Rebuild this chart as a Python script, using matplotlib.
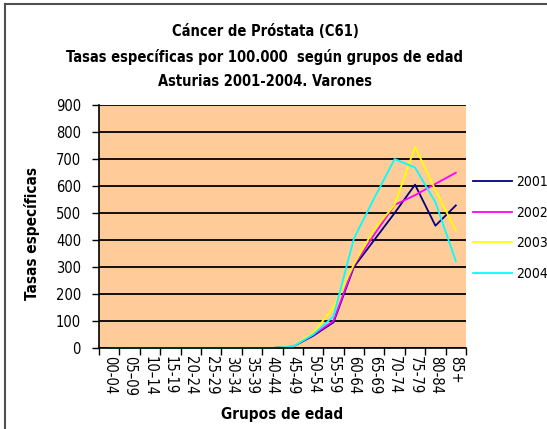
import matplotlib
matplotlib.use("Agg")
import matplotlib.pyplot as plt
from matplotlib.lines import Line2D

plt.rcParams['font.family'] = ['DejaVu Sans']
plt.rcParams['font.stretch'] = 'condensed'

categories = ['00-04', '05–09', '10–14', '15-19', '20-24', '25-29', '30-34', '35-39',
              '40-44', '45-49', '50-54', '55-59', '60-64', '65-69', '70-74', '75-79',
              '80-84', '85+']
years = ['2001', '2002', '2003', '2004']
v2001 = [0, 0, 0, 0, 0, 0, 0, 0, 0, 5, 45, 95, 300, 400, 500, 605, 453, 528]
v2002 = [0, 0, 0, 0, 0, 0, 0, 0, 0, 5, 48, 100, 305, 420, 530, 566, 608, 649]
v2003 = [0, 0, 0, 0, 0, 0, 0, 0, 0, 5, 55, 150, 310, 440, 530, 745, 585, 435]
v2004 = [0, 0, 0, 0, 0, 0, 0, 0, 0, 5, 50, 117, 405, 555, 700, 668, 540, 322]
series = [v2001, v2002, v2003, v2004]
colors = ['#000080', '#FF00FF', '#FFFF00', '#00FFFF']
yticks = [0, 100, 200, 300, 400, 500, 600, 700, 800, 900]

W, H = 547, 429
fig = plt.figure(figsize=(W / 100, H / 100), dpi=100)
fig.patch.set_facecolor('white')

def fx(px):
    return px / W

def fy(py):
    return 1 - py / H

ax = fig.add_axes([fx(99), fy(348), fx(466) - fx(99), fy(105) - fy(348)])
ax.set_facecolor('#FFCC99')

x = list(range(len(categories)))
for vals, c, lab in zip(series, colors, years):
    ax.plot(x, vals, color=c, lw=1.3, label=lab, zorder=2, clip_on=False)

ax.set_xlim(-0.5, len(categories) - 0.5)
ax.set_ylim(0, 900)
ax.set_yticks(yticks)
ax.set_yticklabels([str(v) for v in yticks])
ax.yaxis.grid(True, color='black', lw=1.3)
ax.set_axisbelow(True)
for s in ['top', 'right']:
    ax.spines[s].set_visible(False)
for s in ['left', 'bottom']:
    ax.spines[s].set_color('black')
    ax.spines[s].set_linewidth(1.2)
    ax.spines[s].set_zorder(3)

ax.set_xticks([i - 0.5 for i in range(len(categories) + 1)])
ax.set_xticklabels([])
ax.set_xticks(x, minor=True)
ax.set_xticklabels(categories, minor=True, rotation=-90, fontsize=10.5)
ax.tick_params(axis='x', which='major', direction='out', length=5, width=1, color='black')
ax.tick_params(axis='x', which='minor', length=0, pad=6)
ax.tick_params(axis='y', direction='out', length=5, width=1, color='black', labelsize=10.5, pad=8)

ax.set_xlabel('Grupos de edad', fontsize=11, fontweight='bold', labelpad=8)
ax.set_ylabel('Tasas específicas', fontsize=11, fontweight='bold')
ax.yaxis.set_label_coords((40 - 99) / (466 - 99), (348 - 234) / (348 - 105))

title_lines = ['Cáncer de Próstata (C61)',
               'Tasas específicas por 100.000  según grupos de edad',
               'Asturias 2001-2004. Varones']
for t, py in zip(title_lines, [32, 57, 82]):
    fig.text(fx(265), fy(py), t, ha='center', va='center', fontsize=10.5, fontweight='bold')

leg = fig.legend(loc='upper left', bbox_to_anchor=(fx(473), fy(175)), frameon=False,
                 fontsize=10, handlelength=2.8, handletextpad=0.3, labelspacing=1.2,
                 borderaxespad=0, borderpad=0)

# outer chart border (left and top visible)
fig.add_artist(Line2D([fx(5), fx(5)], [fy(4), 0], color='#505050', lw=1.5))
fig.add_artist(Line2D([fx(5), 1], [fy(4), fy(4)], color='#505050', lw=1.5))

fig.savefig('out.png', dpi=100)
